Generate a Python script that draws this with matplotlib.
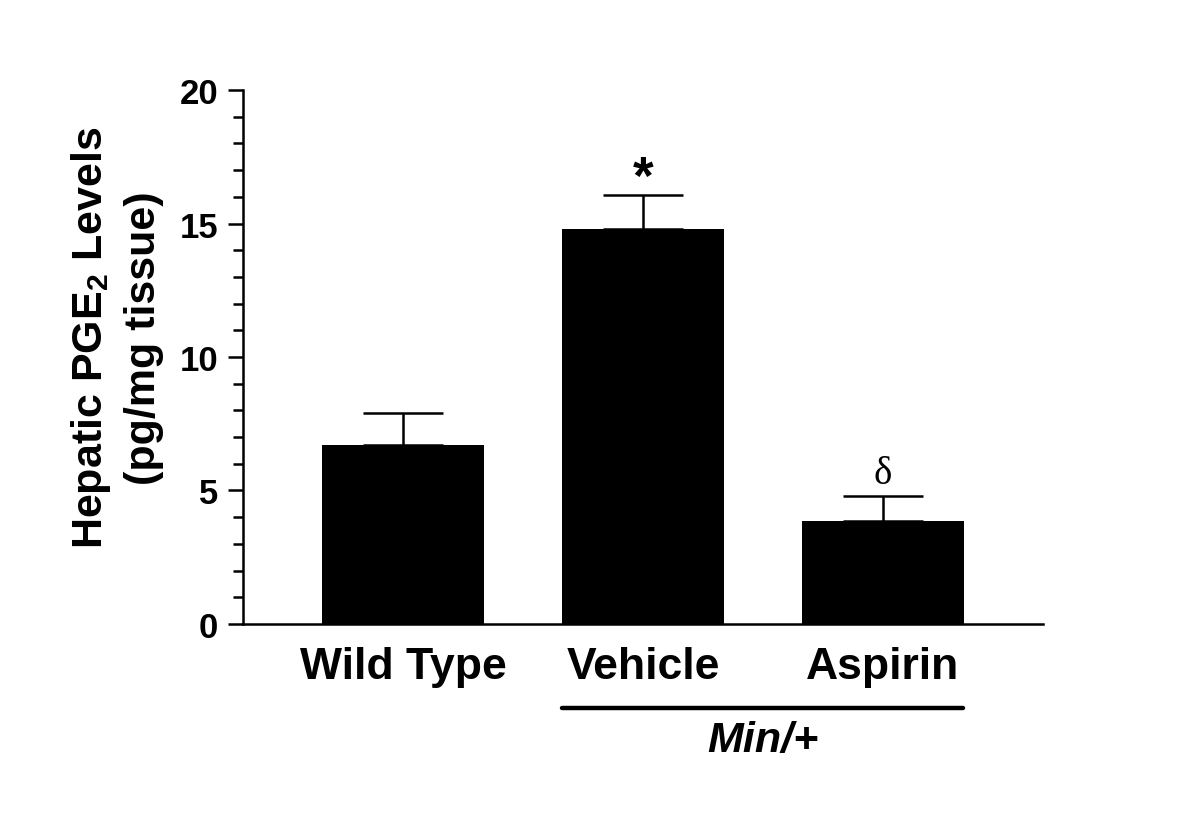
import matplotlib
matplotlib.use("Agg")
import matplotlib.pyplot as plt
from matplotlib.ticker import MultipleLocator

categories = ["Wild Type", "Vehicle", "Aspirin"]
means = [6.72, 14.78, 3.84]
sem = [1.18, 1.29, 0.95]
annotations = ["", "*", "δ"]
group_label = "Min/+"

plt.rcParams['font.family'] = ['Liberation Sans', 'DejaVu Sans']

fig = plt.figure(figsize=(12, 8.29), dpi=100)
ax = fig.add_axes([0.2025, 0.2461, 0.6667, 0.6441])

x = list(range(len(categories)))
ax.bar(x, means, width=0.675, color='black', zorder=2)
ax.errorbar(x, means, yerr=[[0]*len(sem), sem], fmt='none', ecolor='black',
            elinewidth=1.8, capsize=29, capthick=1.8, zorder=1)

ax.set_xlim(-0.667, 2.667)
ax.set_ylim(0, 20)
ax.yaxis.set_major_locator(MultipleLocator(5))
ax.yaxis.set_minor_locator(MultipleLocator(1))
ax.spines['top'].set_visible(False)
ax.spines['right'].set_visible(False)
ax.spines['left'].set_linewidth(1.8)
ax.spines['bottom'].set_linewidth(1.8)
ax.tick_params(axis='y', which='major', length=11, width=1.8, labelsize=25, pad=7)
ax.tick_params(axis='y', which='minor', length=7, width=1.8)
for lab in ax.get_yticklabels():
    lab.set_fontweight('bold')
ax.set_xticks(x)
ax.set_xticklabels(categories, fontsize=32, fontweight='bold')
ax.tick_params(axis='x', length=0, pad=16)

fig.text(0.097, 0.592, "Hepatic PGE$_\\mathregular{2}$ Levels\n(pg/mg tissue)", fontsize=31,
         fontweight='bold', rotation=90, ha='center', va='center', linespacing=1.35,
         multialignment='center')

for xi, m, s, a in zip(x, means, sem, annotations):
    if a == "*":
        ax.text(xi, m + s - 0.35, a, ha='center', va='bottom', fontsize=38, fontweight='bold')
    elif a:
        ax.text(xi, m + s + 0.15, a, ha='center', va='bottom', fontsize=28,
                family=['Liberation Serif', 'DejaVu Serif'])

# group line under Vehicle and Aspirin
ax.plot([0.663, 2.333], [-3.15, -3.15], color='black', lw=3.2, solid_capstyle='round',
        clip_on=False)
ax.text(1.5, -4.35, group_label, ha='center', va='center', fontsize=31,
        fontweight='bold', fontstyle='italic')

fig.savefig("out.png", dpi=100, facecolor='white')
